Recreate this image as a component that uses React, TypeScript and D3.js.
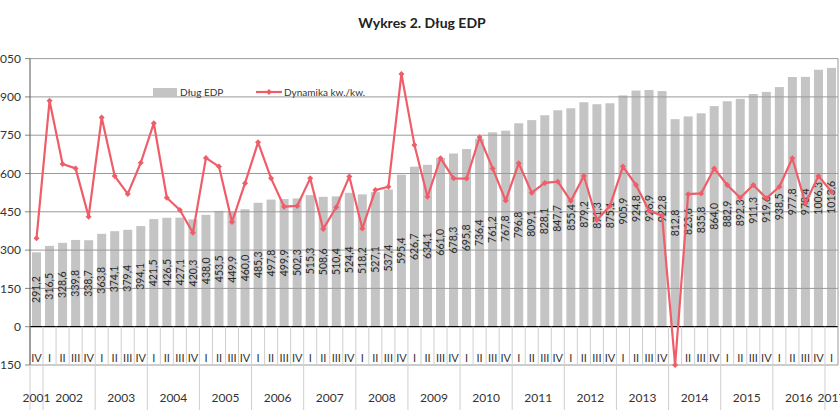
import React from "react";
import * as d3 from "d3";

const debtValues: number[] = [
  291.2, 316.5, 328.6, 339.8, 338.7, 363.8, 374.1, 379.4, 394.1, 421.5,
  426.5, 427.1, 420.3, 438.0, 453.5, 449.9, 460.0, 485.3, 497.8, 499.9,
  502.3, 515.3, 508.6, 510.4, 524.4, 518.2, 527.1, 537.4, 595.4, 626.7,
  634.1, 661.0, 678.3, 695.8, 736.4, 761.2, 767.8, 796.8, 809.1, 828.1,
  847.7, 855.4, 879.2, 871.3, 875.1, 905.9, 924.8, 926.9, 922.8, 812.8,
  823.6, 835.8, 864.0, 882.9, 892.3, 911.3, 919.6, 938.5, 977.8, 978.4,
  1006.3, 1013.6,
];

// Dynamika kw./kw. as plotted against the visible axis
const dynamicsValues: number[] = [
  346, 885, 637, 620, 431, 819, 590, 520, 642, 797,
  505, 457, 368, 661, 627, 410, 562, 722, 581, 470,
  473, 581, 383, 468, 588, 385, 535, 548, 990, 712,
  509, 660, 581, 580, 742, 620, 494, 640, 525, 563,
  568, 492, 590, 418, 473, 627, 555, 454, 435, -150,
  519, 522, 620, 555, 505, 555, 503, 548, 660, 483,
  590, 529,
];

const quarterLabels: string[] = [
  "IV",
  "I", "II", "III", "IV", "I", "II", "III", "IV", "I", "II", "III", "IV",
  "I", "II", "III", "IV", "I", "II", "III", "IV", "I", "II", "III", "IV",
  "I", "II", "III", "IV", "I", "II", "III", "IV", "I", "II", "III", "IV",
  "I", "II", "III", "IV", "I", "II", "III", "IV", "I", "II", "III", "IV",
  "I", "II", "III", "IV", "I", "II", "III", "IV", "I", "II", "III", "IV",
  "I",
];

const yearLabels: string[] = [
  "2001", "2002", "2003", "2004", "2005", "2006", "2007", "2008", "2009",
  "2010", "2011", "2012", "2013", "2014", "2015", "2016", "2017",
];
// number of quarters for each year label
const yearQuarterCounts: number[] = [1, 4, 4, 4, 4, 4, 4, 4, 4, 4, 4, 4, 4, 4, 4, 4, 1];

const yTicks: number[] = [-150, 0, 150, 300, 450, 600, 750, 900, 1050];

const W = 840;
const H = 416;
const FONT = "Lato, 'Open Sans', sans-serif";

export default function App() {
  const left = 30;
  const right = 838;
  const x = d3
    .scaleBand<number>()
    .domain(debtValues.map((_, i) => i))
    .range([left, right])
    .padding(0);
  const y = d3.scaleLinear().domain([-150, 1050]).range([365, 58.6]);
  const bw = x.bandwidth() * 0.69;
  const cx = (i: number) => (x(i) as number) + x.bandwidth() / 2;

  const line = d3
    .line<number>()
    .x((_, i) => cx(i))
    .y((d) => y(d));

  const yearStarts: number[] = [];
  let acc = 0;
  yearQuarterCounts.forEach((c) => {
    yearStarts.push(acc);
    acc += c;
  });

  const fmt = (v: number) => v.toFixed(1).replace(".", ",");
  const red = "#ef5d68";

  const diamond = (px: number, py: number, r: number) =>
    `M${px},${py - r}L${px + r},${py}L${px},${py + r}L${px - r},${py}Z`;

  return (
    <svg
      width={W}
      height={H}
      style={{ position: "absolute", left: 0, top: 0, background: "#fff" }}
      fontFamily={FONT}
    >
      <text
        x={422}
        y={28}
        textAnchor="middle"
        fontSize={14}
        fontWeight="bold"
        fill="#222"
      >
        Wykres 2. Dług EDP
      </text>

      {debtValues.map((v, i) => (
        <rect
          key={"b" + i}
          x={cx(i) - bw / 2}
          y={y(v)}
          width={bw}
          height={y(0) - y(v)}
          fill="#c4c4c4"
        />
      ))}

      {yTicks.map((t) => (
        <line
          key={"g" + t}
          x1={left}
          x2={right}
          y1={y(t)}
          y2={y(t)}
          stroke={t === 0 ? "#000" : "#9a9a9a"}
          strokeWidth={t === 0 ? 1.2 : 1}
        />
      ))}
      {yTicks.map((t) => (
        <line
          key={"tk" + t}
          x1={left - 5}
          x2={left}
          y1={y(t)}
          y2={y(t)}
          stroke="#888"
        />
      ))}

      {yTicks.map((t) => (
        <text
          key={"yl" + t}
          x={21}
          y={y(t)}
          dy="0.35em"
          textAnchor="end"
          fontSize={12}
          fill="#333"
        >
          {t}
        </text>
      ))}

      {debtValues.map((_, i) => (
        <line
          key={"qs" + i}
          x1={x(i) as number}
          x2={x(i) as number}
          y1={y(0)}
          y2={y(-150)}
          stroke="#cfcfcf"
        />
      ))}
      {yearStarts.map((s, k) => (
        <line
          key={"ys" + k}
          x1={x(s) as number}
          x2={x(s) as number}
          y1={y(-150)}
          y2={410}
          stroke="#cfcfcf"
        />
      ))}

      <line x1={left} x2={left} y1={y(1050)} y2={y(-150)} stroke="#555" />
      <line x1={right} x2={right} y1={y(1050)} y2={y(-150)} stroke="#9a9a9a" />

      {quarterLabels.map((q, i) => (
        <text
          key={"q" + i}
          x={cx(i)}
          y={362}
          textAnchor="middle"
          fontSize={11}
          fill="#333"
        >
          {q}
        </text>
      ))}

      {yearLabels.map((yl, k) => {
        const s = yearStarts[k];
        const e = s + yearQuarterCounts[k] - 1;
        const mid = (cx(s) + cx(e)) / 2;
        return (
          <text
            key={"y" + k}
            x={mid}
            y={402}
            textAnchor="middle"
            fontSize={12}
            fill="#333"
          >
            {yl}
          </text>
        );
      })}

      {debtValues.map((v, i) => (
        <text
          key={"l" + i}
          transform={`translate(${cx(i)},${(y(v) + y(0)) / 2}) rotate(-90)`}
          textAnchor="middle"
          dy="0.35em"
          fontSize={10.5}
          fill="#2a2a2a"
        >
          {fmt(v)}
        </text>
      ))}

      <path
        d={line(dynamicsValues) || ""}
        fill="none"
        stroke={red}
        strokeWidth={2.2}
        strokeLinejoin="round"
      />
      {dynamicsValues.map((v, i) => (
        <path key={"m" + i} d={diamond(cx(i), y(v), 3)} fill={red} />
      ))}

      <rect x={153} y={88} width={24} height={8} fill="#c4c4c4" />
      <text x={180} y={96} fontSize={10} fill="#333">
        Dług EDP
      </text>
      <line x1={256} x2={282} y1={92} y2={92} stroke={red} strokeWidth={2.2} />
      <path d={diamond(269, 92, 3)} fill={red} />
      <text x={284} y={96} fontSize={10} fill="#333">
        Dynamika kw./kw.
      </text>
    </svg>
  );
}
